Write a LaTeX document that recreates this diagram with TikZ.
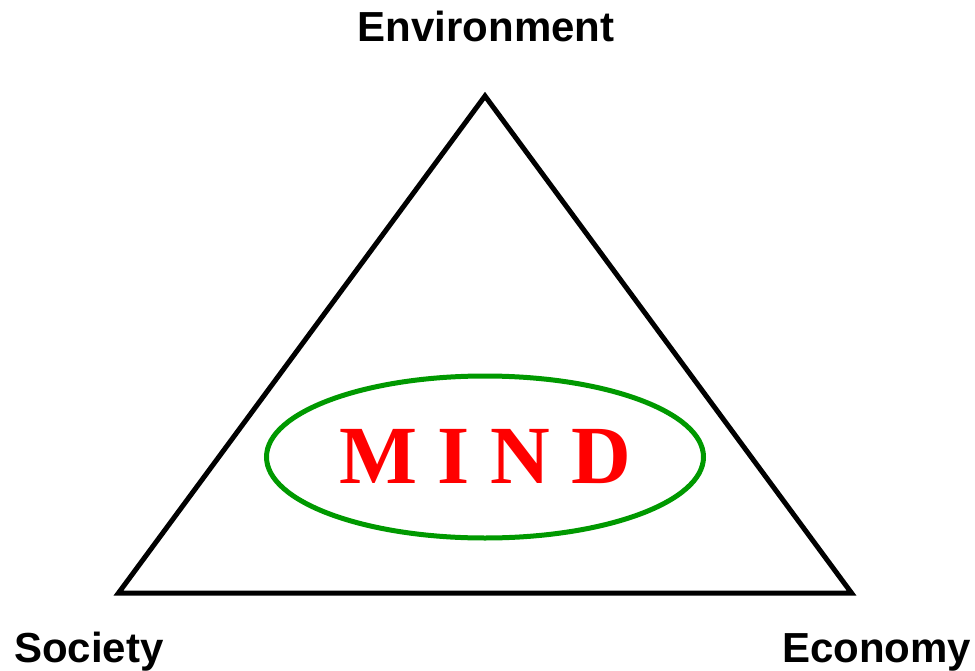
\documentclass[tikz,border=0pt]{standalone}
\usepackage{fontspec}
\setmainfont{Liberation Serif}
\newfontfamily\labelfont{Liberation Sans}
\usetikzlibrary{shapes.geometric}
\definecolor{mindgreen}{RGB}{0,153,0}
\definecolor{mindred}{RGB}{255,0,0}
\tikzset{
  edgeline/.style={draw=black, line width=3.75pt, miter limit=10, line join=miter},
  vertexlabel/.style={inner sep=0pt, font=\labelfont\fontsize{31.5}{31.5}\selectfont\bfseries},
  mindring/.style={ellipse, draw=mindgreen, line width=3.75pt, inner sep=0pt,
    minimum width=437*0.75pt, minimum height=162*0.75pt,
    text=mindred, font=\fontsize{62}{62}\selectfont\bfseries}
}
\begin{document}
\begin{tikzpicture}[x=0.75pt,y=-0.75pt]
\useasboundingbox (0,0) rectangle (975,671);
\coordinate (top) at (485,96);
\coordinate (left) at (118.5,593);
\coordinate (right) at (851.5,593);
\draw[edgeline] (top) -- (left) -- (right) -- cycle;
\node[mindring] (mind) at (485,457) {M I N D};
\node[vertexlabel, anchor=base] (env) at (486,41.5) {Environment};
\node[vertexlabel, anchor=base west] (soc) at (14,662) {Society};
\node[vertexlabel, anchor=base west] (eco) at (782,662) {Economy};
\end{tikzpicture}
\end{document}
